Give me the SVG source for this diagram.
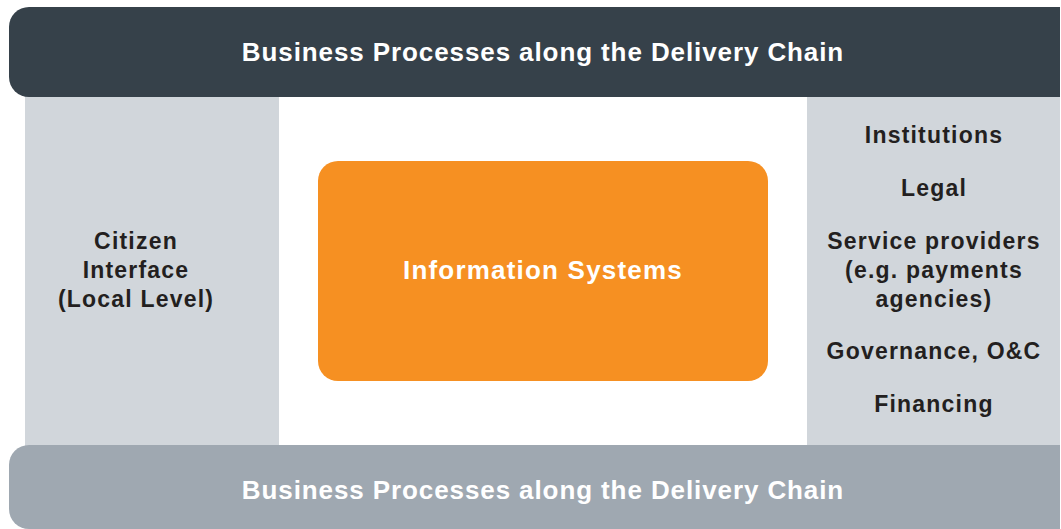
<svg xmlns="http://www.w3.org/2000/svg" width="1061" height="529" viewBox="0 0 1061 529">
<style>
.t{font-family:"Liberation Sans",Arial,sans-serif;font-weight:bold;text-anchor:middle}
.w{fill:#ffffff;font-size:26px;letter-spacing:0.9px}
.d{fill:#231f20;font-size:23px;letter-spacing:1.2px}
</style>
<rect width="1061" height="529" fill="#ffffff"/>
<g id="left-panel">
<rect x="25" y="95" width="254" height="352" fill="#d1d6db"/>
<text class="t d" x="136" y="249">Citizen</text>
<text class="t d" x="136" y="278">Interface</text>
<text class="t d" x="136" y="307">(Local Level)</text>
</g>
<g id="right-panel">
<rect x="807" y="95" width="253" height="352" fill="#d1d6db"/>
<text class="t d" x="934" y="143">Institutions</text>
<text class="t d" x="934" y="196">Legal</text>
<text class="t d" x="934" y="249">Service providers</text>
<text class="t d" x="934" y="278">(e.g. payments</text>
<text class="t d" x="934" y="307">agencies)</text>
<text class="t d" x="934" y="359">Governance, O&amp;C</text>
<text class="t d" x="934" y="412">Financing</text>
</g>
<g id="top-bar">
<path d="M29 7 H1060 V97 H29 A20 20 0 0 1 9 77 V27 A20 20 0 0 1 29 7 Z" fill="#36414a"/>
<text class="t w" x="543" y="61">Business Processes along the Delivery Chain</text>
</g>
<g id="bottom-bar">
<path d="M29 445 H1060 V529 H29 A20 20 0 0 1 9 509 V465 A20 20 0 0 1 29 445 Z" fill="#9fa8b1"/>
<text class="t w" x="543" y="499">Business Processes along the Delivery Chain</text>
</g>
<g id="information-systems">
<rect x="318" y="161" width="450" height="220" rx="20" fill="#f69022"/>
<text class="t w" x="543" y="279" style="letter-spacing:1.2px">Information Systems</text>
</g>
<g id="connectors"></g>
</svg>
